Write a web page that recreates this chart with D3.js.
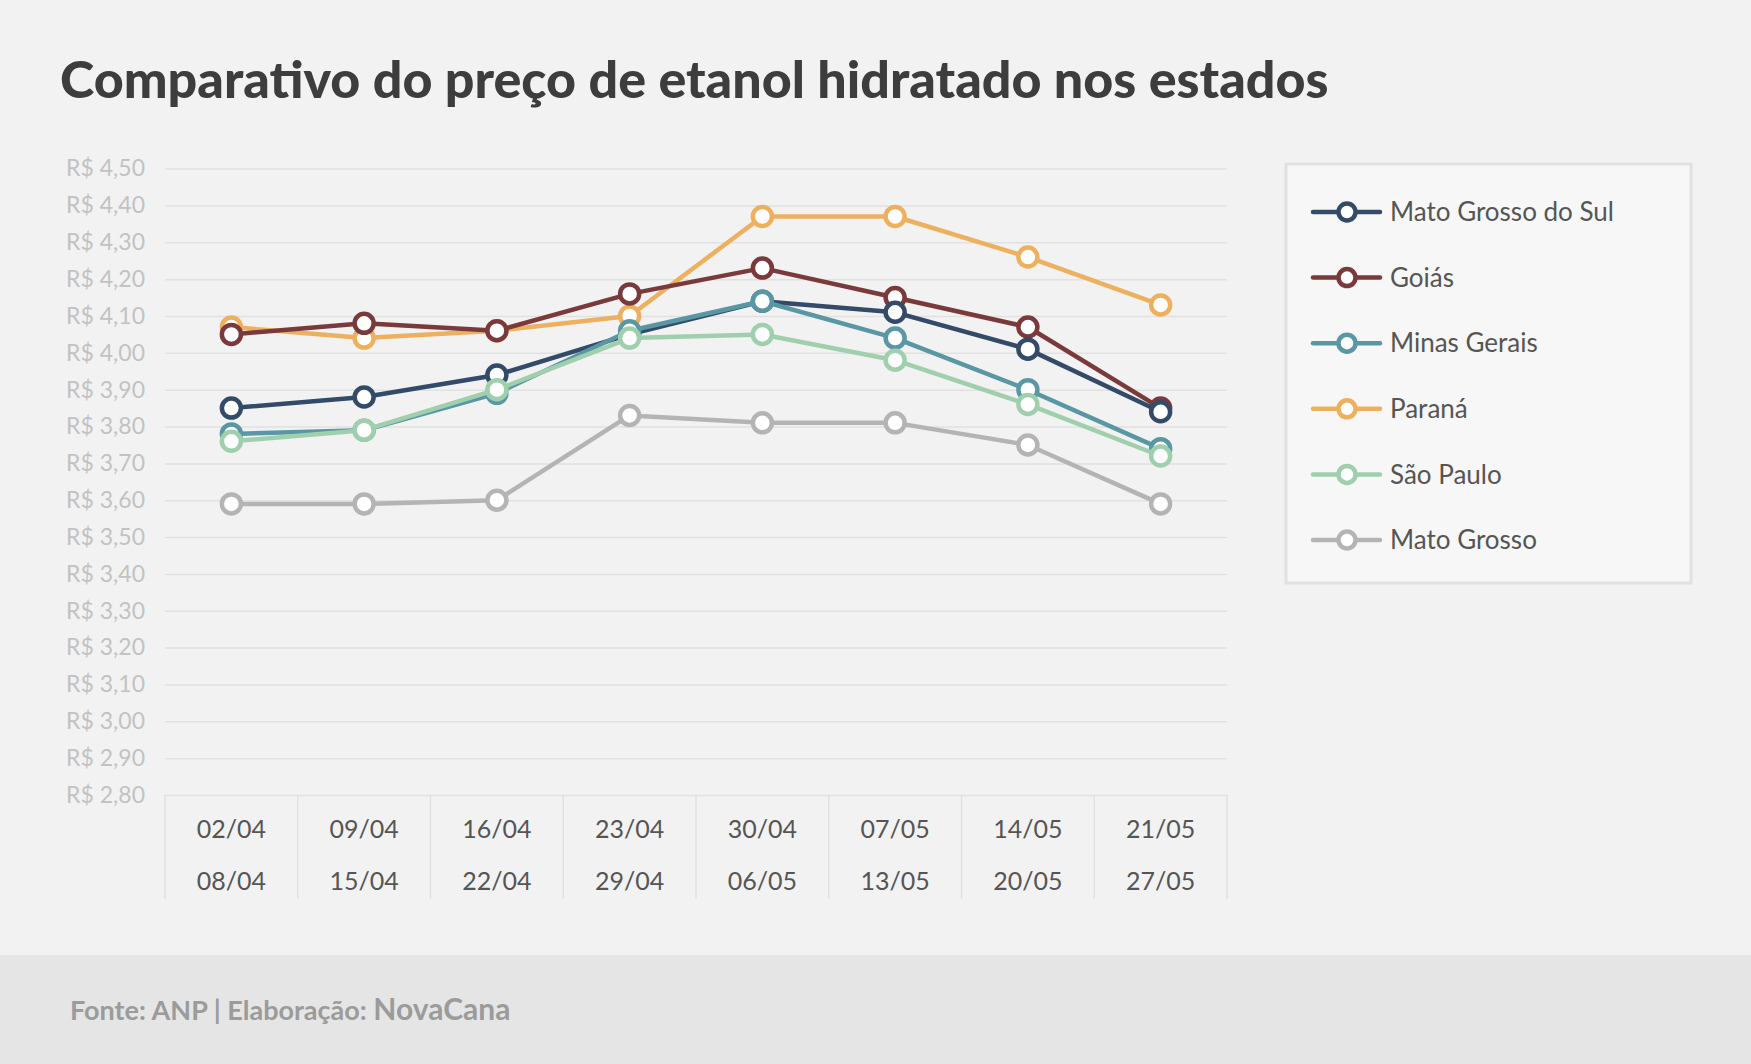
<!DOCTYPE html>
<html>
<head>
<meta charset="utf-8">
<script src="https://cdn.jsdelivr.net/npm/d3@7"></script>
<style>
  body { margin: 0; background: #f2f2f2; }
  svg { display: block; font-family: Lato, "Open Sans", sans-serif; }
</style>
</head>
<body>
<svg width="1751" height="1064"></svg>
<script>
// weeks (two-line labels)
var weekStart = ["02/04", "09/04", "16/04", "23/04", "30/04", "07/05", "14/05", "21/05"];
var weekEnd   = ["08/04", "15/04", "22/04", "29/04", "06/05", "13/05", "20/05", "27/05"];

var states = ["Mato Grosso do Sul", "Goiás", "Minas Gerais", "Paraná", "São Paulo", "Mato Grosso"];
var colors = ["#334a68", "#7a3a3b", "#5a97a4", "#edb05f", "#9fcfac", "#b4b4b4"];

// price per week, R$
var matoGrossoDoSul = [3.85, 3.88, 3.94, 4.05, 4.14, 4.11, 4.01, 3.84];
var goias           = [4.05, 4.08, 4.06, 4.16, 4.23, 4.15, 4.07, 3.85];
var minasGerais     = [3.78, 3.79, 3.89, 4.06, 4.14, 4.04, 3.90, 3.74];
var parana          = [4.07, 4.04, 4.06, 4.10, 4.37, 4.37, 4.26, 4.13];
var saoPaulo        = [3.76, 3.79, 3.90, 4.04, 4.05, 3.98, 3.86, 3.72];
var matoGrosso      = [3.59, 3.59, 3.60, 3.83, 3.81, 3.81, 3.75, 3.59];

var yTicks = [2.8, 2.9, 3.0, 3.1, 3.2, 3.3, 3.4, 3.5, 3.6, 3.7, 3.8, 3.9, 4.0, 4.1, 4.2, 4.3, 4.4, 4.5];

var series = [matoGrossoDoSul, goias, minasGerais, parana, saoPaulo, matoGrosso].map(function(v, i) {
  return { name: states[i], color: colors[i], values: v };
});
// drawing order (bottom to top)
var drawOrder = [5, 3, 1, 0, 2, 4];

var svg = d3.select("svg");

svg.append("rect").attr("width", 1751).attr("height", 1064).attr("fill", "#f2f2f2");
svg.append("rect").attr("y", 955).attr("width", 1751).attr("height", 109).attr("fill", "#e5e5e5");

svg.append("text")
  .attr("x", 60).attr("y", 98)
  .attr("font-size", 52).attr("font-weight", 900)
  .attr("fill", "#3d3d3d")
  .text("Comparativo do preço de etanol hidratado nos estados");

var plotLeft = 165, plotRight = 1227, plotTop = 168.6, plotBottom = 795;

var x = d3.scaleBand().domain(weekStart).range([plotLeft, plotRight]);
var y = d3.scaleLinear().domain([2.8, 4.5]).range([plotBottom, plotTop]);
var fmt = d3.format(".2f");

// gridlines + y labels
var yAxis = svg.append("g")
  .attr("transform", "translate(" + plotLeft + ",0)")
  .call(d3.axisLeft(y).tickValues(yTicks)
    .tickSize(-(plotRight - plotLeft)).tickPadding(20)
    .tickFormat(function(d) { return "R$ " + fmt(d).replace(".", ","); }));
yAxis.select(".domain").remove();
yAxis.selectAll("line").attr("stroke", "#e1e1e1").attr("stroke-width", 1.5);
yAxis.selectAll("text").attr("fill", "#c2c2c2").attr("font-size", 23)
  .attr("font-family", "Lato, sans-serif");

// x table
var xg = svg.append("g");
xg.selectAll("line.sep")
  .data(weekStart.concat(["end"]))
  .enter().append("line")
  .attr("x1", function(d, i) { return plotLeft + i * x.bandwidth(); })
  .attr("x2", function(d, i) { return plotLeft + i * x.bandwidth(); })
  .attr("y1", plotBottom).attr("y2", 899)
  .attr("stroke", "#e1e1e1").attr("stroke-width", 1.5);

xg.selectAll("text.w1")
  .data(weekStart).enter().append("text")
  .attr("x", function(d) { return x(d) + x.bandwidth() / 2; })
  .attr("y", 838)
  .attr("text-anchor", "middle")
  .attr("font-size", 25).attr("fill", "#555")
  .text(function(d) { return d; });
xg.selectAll("text.w2")
  .data(weekEnd).enter().append("text")
  .attr("x", function(d, i) { return x(weekStart[i]) + x.bandwidth() / 2; })
  .attr("y", 890)
  .attr("text-anchor", "middle")
  .attr("font-size", 25).attr("fill", "#555")
  .text(function(d) { return d; });

var line = d3.line()
  .x(function(d, i) { return x(weekStart[i]) + x.bandwidth() / 2; })
  .y(function(d) { return y(d); });

drawOrder.forEach(function(k) {
  var s = series[k];
  var g = svg.append("g");
  g.append("path")
    .attr("d", line(s.values))
    .attr("fill", "none")
    .attr("stroke", s.color)
    .attr("stroke-width", 4.5)
    .attr("stroke-linejoin", "round");
  g.selectAll("circle")
    .data(s.values).enter().append("circle")
    .attr("cx", function(d, i) { return x(weekStart[i]) + x.bandwidth() / 2; })
    .attr("cy", function(d) { return y(d); })
    .attr("r", 9.5)
    .attr("fill", "#fff")
    .attr("stroke", s.color)
    .attr("stroke-width", 4.5);
});

// legend
var legend = svg.append("g");
legend.append("rect")
  .attr("x", 1286).attr("y", 164).attr("width", 405).attr("height", 419)
  .attr("fill", "#f7f7f7").attr("stroke", "#e1e1e1").attr("stroke-width", 3);

var item = legend.selectAll("g.item")
  .data(series).enter().append("g")
  .attr("transform", function(d, i) { return "translate(0," + (212 + i * 65.6) + ")"; });
item.append("line")
  .attr("x1", 1313).attr("x2", 1380)
  .attr("stroke", function(d) { return d.color; })
  .attr("stroke-width", 4.5).attr("stroke-linecap", "round");
item.append("circle")
  .attr("cx", 1347).attr("r", 8.5)
  .attr("fill", "#fff")
  .attr("stroke", function(d) { return d.color; })
  .attr("stroke-width", 4.5);
item.append("text")
  .attr("x", 1390).attr("dy", "0.35em")
  .attr("font-size", 26).attr("fill", "#555")
  .text(function(d) { return d.name; });

// footer
var foot = svg.append("text")
  .attr("x", 70).attr("y", 1020)
  .attr("font-weight", 700).attr("fill", "#9b9b9b");
foot.append("tspan").attr("font-size", 27).text("Fonte: ANP | Elaboração: ");
foot.append("tspan").attr("font-size", 30).text("NovaCana");
</script>
</body>
</html>
